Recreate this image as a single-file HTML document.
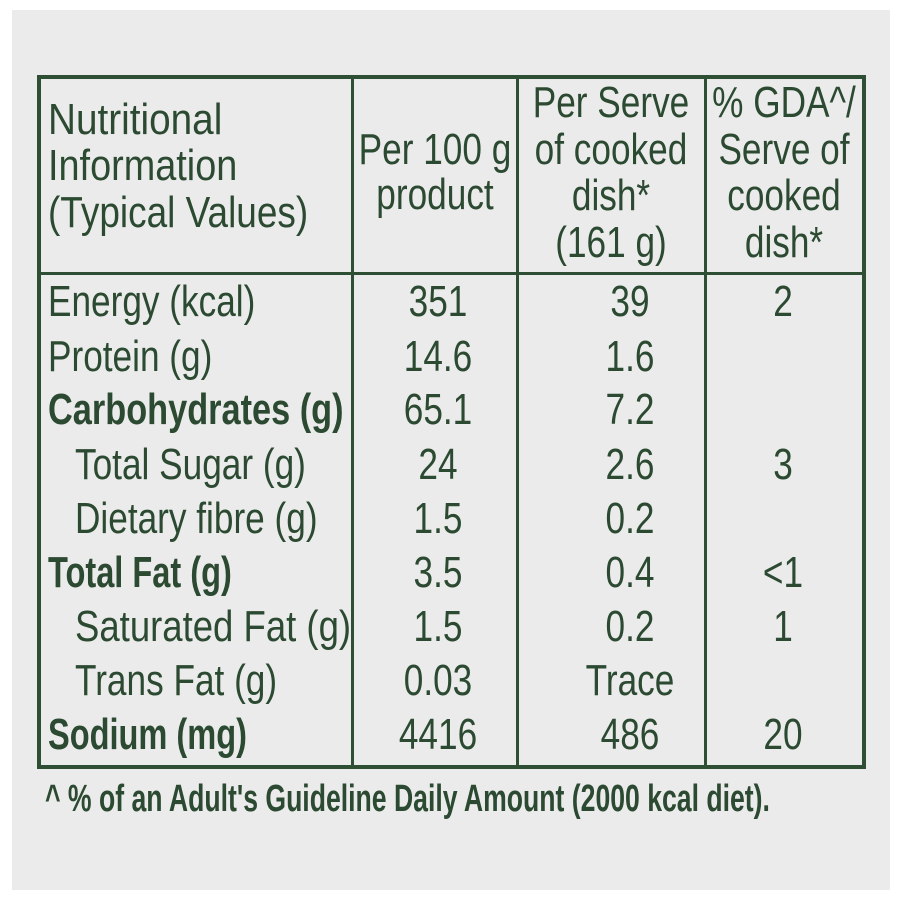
<!DOCTYPE html>
<html><head><style>
body{margin:0;width:900px;height:900px;background:#fff;position:relative;overflow:hidden;font-family:"Liberation Sans",sans-serif;color:#2b4a31}
#bg{position:absolute;left:12px;top:10px;width:878px;height:880px;background:#ebebeb}
.ln{position:absolute;background:#2e4f34}
.t{position:absolute;font-size:44px;line-height:54px;height:54px;white-space:nowrap;transform:scaleX(0.8);}
.l{transform-origin:0 50%}
.c{width:300px;text-align:center;transform-origin:50% 50%}
.b{font-weight:bold;transform:scaleX(0.74)}
</style></head><body>
<div id="bg"></div>
<div class="ln" style="left:37px;top:75px;width:829px;height:4px"></div>
<div class="ln" style="left:37px;top:765px;width:829px;height:4px"></div>
<div class="ln" style="left:37px;top:75px;width:4px;height:694px"></div>
<div class="ln" style="left:862px;top:75px;width:4px;height:694px"></div>
<div class="ln" style="left:37px;top:272px;width:829px;height:3px"></div>
<div class="ln" style="left:351px;top:75px;width:3px;height:694px"></div>
<div class="ln" style="left:516px;top:75px;width:3px;height:694px"></div>
<div class="ln" style="left:704px;top:75px;width:3px;height:694px"></div>

<div class="t l" style="left:48px;top:93px;transform:scaleX(0.88)">Nutritional</div>
<div class="t l" style="left:48px;top:139px;transform:scaleX(0.86)">Information</div>
<div class="t l" style="left:48px;top:186px;transform:scaleX(0.84)">(Typical Values)</div>
<div class="t c" style="left:285px;top:123px">Per 100 g</div>
<div class="t c" style="left:285px;top:168px">product</div>
<div class="t c" style="left:461px;top:76px">Per Serve</div>
<div class="t c" style="left:461px;top:123px">of cooked</div>
<div class="t c" style="left:461px;top:169px">dish*</div>
<div class="t c" style="left:461px;top:216px">(161 g)</div>
<div class="t c" style="left:634px;top:76px">% GDA^/</div>
<div class="t c" style="left:634px;top:123px">Serve of</div>
<div class="t c" style="left:634px;top:169px">cooked</div>
<div class="t c" style="left:634px;top:216px">dish*</div>

<div class="t l" style="left:48px;top:275px">Energy (kcal)</div>
<div class="t l" style="left:48px;top:330px">Protein (g)</div>
<div class="t l b" style="left:48px;top:383px;transform:scaleX(0.78)">Carbohydrates (g)</div>
<div class="t l" style="left:75px;top:438px">Total Sugar (g)</div>
<div class="t l" style="left:75px;top:492px">Dietary fibre (g)</div>
<div class="t l b" style="left:48px;top:546px">Total Fat (g)</div>
<div class="t l" style="left:75px;top:600px;transform:scaleX(0.83)">Saturated Fat (g)</div>
<div class="t l" style="left:75px;top:654px">Trans Fat (g)</div>
<div class="t l b" style="left:48px;top:708px">Sodium (mg)</div>

<div class="t c" style="left:288px;top:275px">351</div>
<div class="t c" style="left:288px;top:330px">14.6</div>
<div class="t c" style="left:288px;top:383px">65.1</div>
<div class="t c" style="left:288px;top:438px">24</div>
<div class="t c" style="left:288px;top:492px">1.5</div>
<div class="t c" style="left:288px;top:546px">3.5</div>
<div class="t c" style="left:288px;top:600px">1.5</div>
<div class="t c" style="left:288px;top:654px">0.03</div>
<div class="t c" style="left:288px;top:708px">4416</div>

<div class="t c" style="left:480px;top:275px">39</div>
<div class="t c" style="left:480px;top:330px">1.6</div>
<div class="t c" style="left:480px;top:383px">7.2</div>
<div class="t c" style="left:480px;top:438px">2.6</div>
<div class="t c" style="left:480px;top:492px">0.2</div>
<div class="t c" style="left:480px;top:546px">0.4</div>
<div class="t c" style="left:480px;top:600px">0.2</div>
<div class="t c" style="left:480px;top:654px">Trace</div>
<div class="t c" style="left:480px;top:708px">486</div>

<div class="t c" style="left:633px;top:275px">2</div>
<div class="t c" style="left:633px;top:438px">3</div>
<div class="t c" style="left:633px;top:546px">&lt;1</div>
<div class="t c" style="left:633px;top:600px">1</div>
<div class="t c" style="left:633px;top:708px">20</div>

<div class="t l b" style="left:45px;top:772px;font-size:38px;transform:scaleX(0.7)">^ % of an Adult's Guideline Daily Amount (2000 kcal diet).</div>
</body></html>
